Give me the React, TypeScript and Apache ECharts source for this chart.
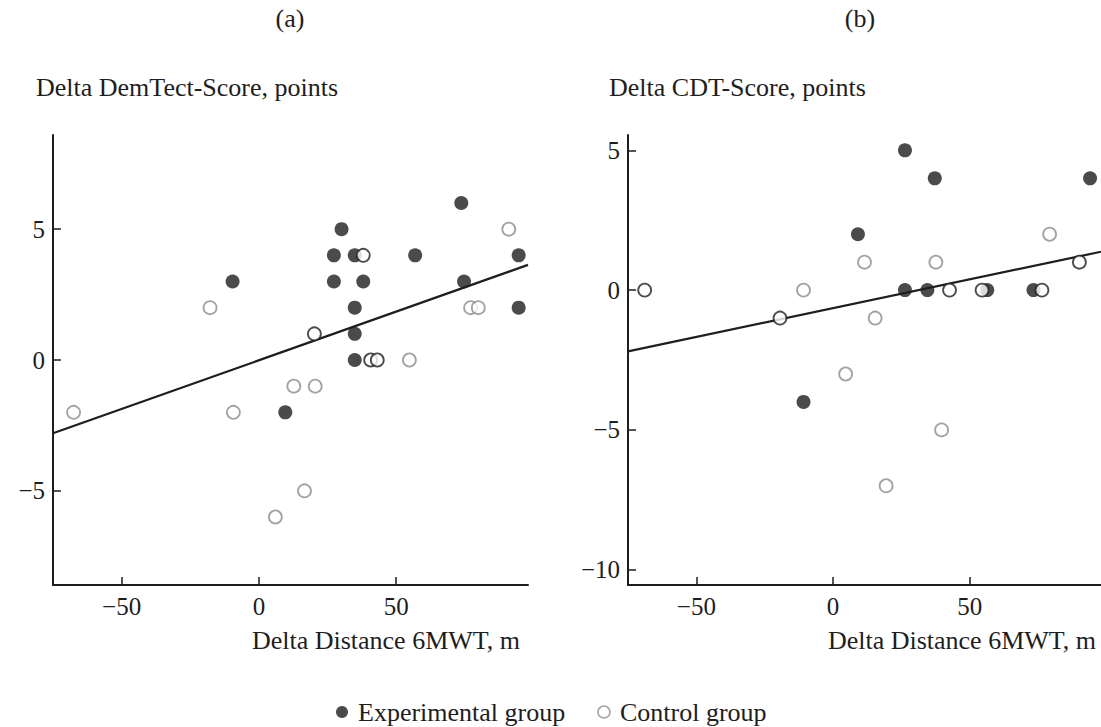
import React, { useEffect, useRef } from "react";
import * as echarts from "echarts";

// ---- data ----
const xTicks = [-50, 0, 50];
const leftYTicks = [-5, 0, 5];
const rightYTicks = [-10, -5, 0, 5];
const xRange = [-75, 98];
const leftYRange = [-8.6, 8.6];
const rightYRange = [-10.55, 5.55];

// (a) Delta DemTect-Score vs Delta Distance 6MWT
const leftExperimental: [number, number][] = [
  [-9.6, 3], [27.3, 4], [30.1, 5], [27.3, 3], [34.9, 4], [38, 3], [34.9, 2],
  [34.9, 1], [34.9, 0], [56.9, 4], [73.7, 6], [74.7, 3], [94.6, 4], [94.6, 2], [9.6, -2],
];
const leftControlDarkRing: [number, number][] = [
  [20.2, 1], [38, 4], [40.7, 0], [43.1, 0],
];
const leftControlGreyRing: [number, number][] = [
  [-67.5, -2], [-17.8, 2], [-9.3, -2], [12.7, -1], [20.5, -1], [54.8, 0],
  [77.1, 2], [79.9, 2], [91, 5], [16.6, -5], [6, -6],
];
const leftFit = { intercept: -0.01, slope: 0.0372 };

// (b) Delta CDT-Score vs Delta Distance 6MWT
const rightExperimental: [number, number][] = [
  [26.3, 5], [37.2, 4], [94, 4], [9.1, 2], [26.3, 0], [34.5, 0], [56.4, 0], [73.3, 0], [-10.8, -4],
];
const rightControlDarkRing: [number, number][] = [
  [-68.9, 0], [-19.4, -1], [90.1, 1], [42.6, 0], [54.5, 0], [76.4, 0],
];
const rightControlGreyRing: [number, number][] = [
  [-10.8, 0], [11.5, 1], [37.6, 1], [79.2, 2], [15.4, -1], [4.6, -3], [39.7, -5], [19.4, -7],
];
const rightFit = { intercept: -0.645, slope: 0.0206 };

const FONT = "Liberation Serif";
const INK = "#1e1e1e";
const GREY = "#8c8c8c";

export default function App() {
  const ref = useRef<HTMLDivElement>(null);

  useEffect(() => {
    if (!ref.current) return;
    const chart = echarts.init(ref.current, null, { renderer: "svg" });

    const minus = (v: number) => (v < 0 ? "\u2212" + Math.abs(v) : String(v));
    const axisCommon = {
      axisLine: { show: true, onZero: false, lineStyle: { color: INK, width: 2 } },
      axisTick: { show: true, inside: true, length: 8, lineStyle: { color: INK, width: 1.5 } },
      splitLine: { show: false },
    };
    const xAxis = (gridIndex: number) => ({
      type: "value",
      gridIndex,
      min: xRange[0],
      max: xRange[1],
      ...axisCommon,
      axisTick: { ...axisCommon.axisTick, customValues: xTicks },
      axisLabel: {
        customValues: xTicks,
        fontFamily: FONT,
        fontSize: 25,
        color: INK,
        margin: 9,
        formatter: minus,
      },
    });
    const yAxis = (gridIndex: number, range: number[], ticks: number[]) => ({
      type: "value",
      gridIndex,
      min: range[0],
      max: range[1],
      ...axisCommon,
      axisTick: { ...axisCommon.axisTick, customValues: ticks },
      axisLabel: {
        customValues: ticks,
        fontFamily: FONT,
        fontSize: 25,
        color: INK,
        margin: 8,
        formatter: minus,
      },
    });

    const filled = (name: string, data: [number, number][], idx: number) => ({
      name,
      type: "scatter",
      xAxisIndex: idx,
      yAxisIndex: idx,
      data,
      symbol: "circle",
      symbolSize: 14,
      itemStyle: { color: INK },
      z: 3,
    });
    const ring = (name: string, data: [number, number][], idx: number, stroke: string) => ({
      name,
      type: "scatter",
      xAxisIndex: idx,
      yAxisIndex: idx,
      data,
      symbol: "circle",
      symbolSize: 13,
      itemStyle: { color: "#ffffff", borderColor: stroke, borderWidth: 1.8 },
      z: 4,
    });
    const fitLine = (fit: { intercept: number; slope: number }, idx: number) => ({
      type: "line",
      xAxisIndex: idx,
      yAxisIndex: idx,
      data: xRange.map((x) => [x, fit.intercept + fit.slope * x]),
      symbol: "none",
      lineStyle: { color: INK, width: 2.2 },
      z: 2,
      silent: true,
    });

    const titleText = (text: string, x: number, y: number, align: string) => ({
      type: "text",
      x,
      y,
      style: {
        text,
        fontFamily: FONT,
        fontSize: 26,
        fill: INK,
        align,
        verticalAlign: "middle",
      },
    });

    chart.setOption({
      animation: false,
      backgroundColor: "#ffffff",
      grid: [
        { left: 53, top: 135, width: 475, height: 450 },
        { left: 628, top: 135, width: 478, height: 450 },
      ],
      xAxis: [xAxis(0), xAxis(1)],
      yAxis: [yAxis(0, leftYRange, leftYTicks), yAxis(1, rightYRange, rightYTicks)],
      legend: {
        left: 336,
        top: 699,
        padding: 0,
        itemWidth: 22,
        itemHeight: 12,
        itemGap: 32,
        textStyle: { fontFamily: FONT, fontSize: 26, color: INK },
        data: [
          { name: "Experimental group", icon: "circle", itemStyle: { color: INK } },
          {
            name: "Control group",
            icon: "circle",
            itemStyle: { color: "#ffffff", borderColor: GREY, borderWidth: 1.5 },
          },
        ],
      },
      series: [
        fitLine(leftFit, 0),
        filled("Experimental group", leftExperimental, 0),
        ring("Control group", leftControlGreyRing, 0, GREY),
        ring("Control group", leftControlDarkRing, 0, INK),
        fitLine(rightFit, 1),
        filled("Experimental group", rightExperimental, 1),
        ring("Control group", rightControlGreyRing, 1, GREY),
        ring("Control group", rightControlDarkRing, 1, INK),
      ],
      graphic: [
        titleText("(a)", 290, 18, "center"),
        titleText("(b)", 860, 18, "center"),
        titleText("Delta DemTect-Score, points", 36, 87, "left"),
        titleText("Delta CDT-Score, points", 609, 87, "left"),
        titleText("Delta Distance 6MWT, m", 520, 640, "right"),
        titleText("Delta Distance 6MWT, m", 1096, 640, "right"),
      ],
    });

    return () => chart.dispose();
  }, []);

  return (
    <div
      ref={ref}
      style={{ position: "absolute", left: 0, top: 0, width: 1101, height: 727, background: "#fff" }}
    />
  );
}
